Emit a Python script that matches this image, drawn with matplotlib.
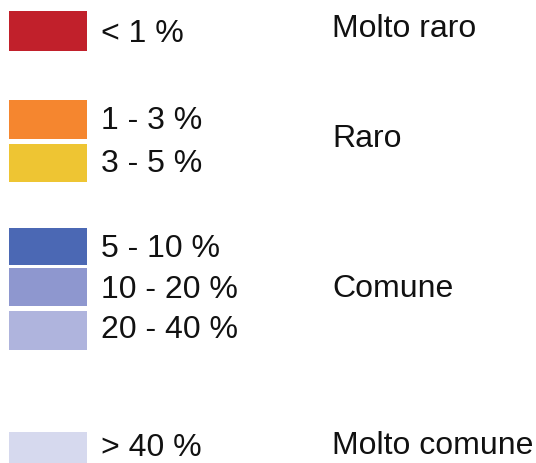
import matplotlib
matplotlib.use("Agg")
import matplotlib.pyplot as plt
from matplotlib.patches import Rectangle

# Data
classes = ["< 1 %", "1 - 3 %", "3 - 5 %", "5 - 10 %", "10 - 20 %", "20 - 40 %", "> 40 %"]
class_colors = ["#C1202B", "#F5862F", "#EEC533", "#4B68B4", "#8E97CF", "#AFB4DD", "#D6D9EE"]
groups = ["Molto raro", "Raro", "Comune", "Molto comune"]

# Layout (pixels)
W, H = 536, 463
sw_x0, sw_x1 = 9, 87
sw_tops = [11, 100, 144, 228, 268, 311, 432]
sw_bots = [51, 139, 182, 265, 306, 350, 472]
txt_y = [34, 121, 164, 249, 290, 330, 448]
grp_y = [29, 139, 289, 446]

fig = plt.figure(figsize=(W / 100, H / 100), dpi=100)
ax = fig.add_axes([0, 0, 1, 1])
ax.set_xlim(0, W)
ax.set_ylim(H, 0)
ax.axis("off")

font = dict(family=["Liberation Sans", "DejaVu Sans"], fontsize=23, color="#111111")

for lab, col, t, b, ty in zip(classes, class_colors, sw_tops, sw_bots, txt_y):
    ax.add_patch(Rectangle((sw_x0, t), sw_x1 - sw_x0, b - t, facecolor=col, edgecolor="none"))
    ax.text(101, ty, lab, va="center", ha="left", **font)

for g, gy in zip(groups, grp_y):
    ax.text(332, gy, g, va="center", ha="left", **font)

fig.savefig("out.png", dpi=100)
